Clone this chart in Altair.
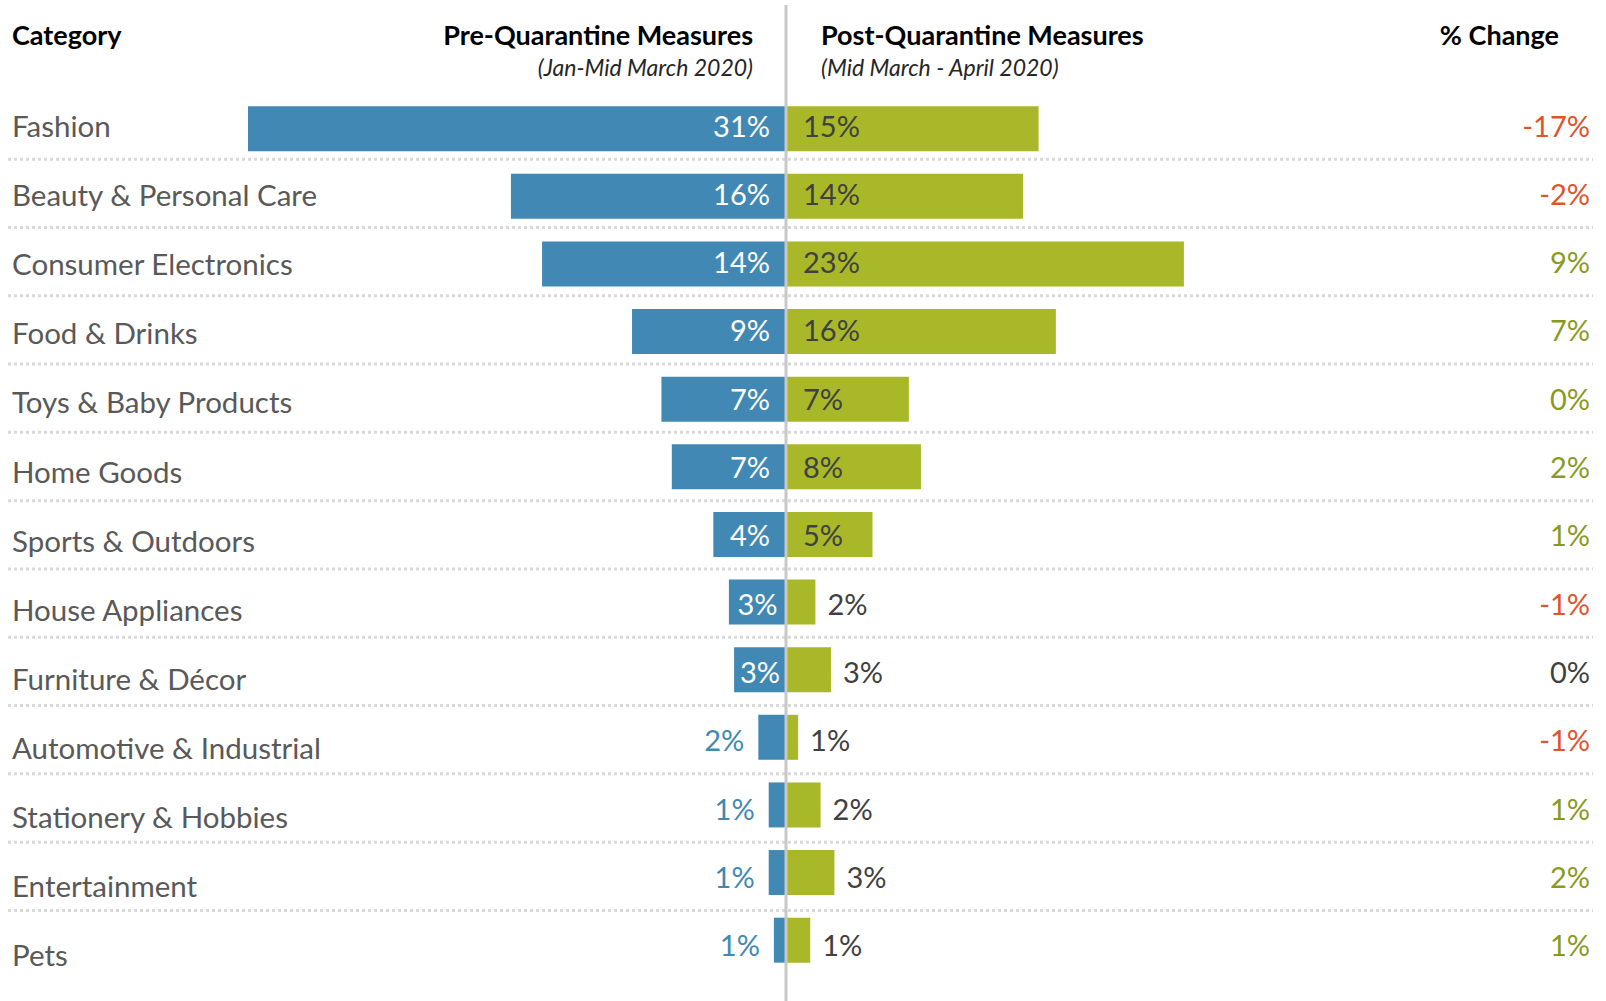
import altair as alt
import pandas as pd

categories = ["Fashion", "Beauty & Personal Care", "Consumer Electronics", "Food & Drinks",
              "Toys & Baby Products", "Home Goods", "Sports & Outdoors", "House Appliances",
              "Furniture & Décor", "Automotive & Industrial", "Stationery & Hobbies",
              "Entertainment", "Pets"]
pre_values = [31.1, 15.9, 14.1, 8.9, 7.2, 6.6, 4.2, 3.3, 3.0, 1.6, 1.0, 1.0, 0.7]
post_values = [14.6, 13.7, 23.0, 15.6, 7.1, 7.8, 5.0, 1.7, 2.6, 0.7, 2.0, 2.8, 1.4]
change_values = [-16.8, -2.2, 8.9, 6.7, 0.1, 1.6, 0.8, -1.4, 0.0, -0.9, 1.0, 1.8, 0.7]

header_texts = ["Category", "Pre-Quarantine Measures", "(Jan-Mid March 2020)",
                "Post-Quarantine Measures", "(Mid March - April 2020)", "% Change"]

BLUE = "#4189B4"
GREEN = "#A8B829"
RED_TXT = "#E0532B"
GREEN_TXT = "#8A9A1C"
DARK = "#404040"
FONT = "Lato"

W, H = 1606, 1001
CX, PXP = 786, 17.3
Y0, DY = 125, 68.3
LY0, LDY = 125.5, 69.1

df = pd.DataFrame({
    "cat": categories,
    "pre": pre_values,
    "post": post_values,
    "chg": change_values,
    "idx": list(range(len(categories))),
})

xs = alt.Scale(domain=[-CX / PXP, (W - CX) / PXP], nice=False, zero=False)
ys = alt.Scale(domain=[-Y0 / DY, (H - Y0) / DY], nice=False, zero=False, reverse=True)
lys = alt.Scale(domain=[-LY0 / LDY, (H - LY0) / LDY], nice=False, zero=False, reverse=True)

base = alt.Chart(df).transform_calculate(
    negpre="-datum.pre",
    halfpre="-datum.pre / 2",
    zero="0",
    sep="datum.idx + 0.5",
    prelab="format(datum.pre, '.0f') + '%'",
    postlab="format(datum.post, '.0f') + '%'",
    chglab="(datum.chg < 0 ? '-' : '') + format(abs(datum.chg), '.0f') + '%'",
    sign="datum.chg > 0 ? 'pos' : (datum.chg < 0 ? 'neg' : 'zero')",
)

Y = alt.Y("idx:Q", scale=ys, axis=None)

seps = base.transform_filter("datum.idx < 12").mark_rule(
    strokeDash=[3, 3], strokeWidth=3, color="#d9d9d9"
).encode(y=alt.Y("sep:Q", scale=ys, axis=None), x=alt.value(8), x2=alt.value(1593))

pre_bars = base.mark_bar(size=45, color=BLUE, orient="horizontal").encode(
    x=alt.X("negpre:Q", scale=xs, axis=None), x2="zero:Q", y=Y)
post_bars = base.mark_bar(size=45, color=GREEN, orient="horizontal").encode(
    x=alt.X("post:Q", scale=xs, axis=None), x2="zero:Q", y=Y)

txt = dict(font=FONT, fontSize=29, baseline="middle", dy=2.5)
pre_in = base.transform_filter("datum.pre >= 3.5").mark_text(
    align="right", dx=-16, color="white", **txt).encode(
    x=alt.X("zero:Q", scale=xs, axis=None), y=Y, text="prelab:N")
pre_mid = base.transform_filter("datum.pre >= 2.5 && datum.pre < 3.5").mark_text(
    align="center", color="white", **txt).encode(
    x=alt.X("halfpre:Q", scale=xs, axis=None), y=Y, text="prelab:N")
pre_out = base.transform_filter("datum.pre < 2.5").mark_text(
    align="right", dx=-14, color=BLUE, **txt).encode(
    x=alt.X("negpre:Q", scale=xs, axis=None), y=Y, text="prelab:N")
post_in = base.transform_filter("datum.post >= 4.5").mark_text(
    align="left", dx=17, color=DARK, **txt).encode(
    x=alt.X("zero:Q", scale=xs, axis=None), y=Y, text="postlab:N")
post_out = base.transform_filter("datum.post < 4.5").mark_text(
    align="left", dx=12, color=DARK, **txt).encode(
    x=alt.X("post:Q", scale=xs, axis=None), y=Y, text="postlab:N")

chg = base.mark_text(align="right", **txt).encode(
    x=alt.value(1590), y=Y, text="chglab:N",
    color=alt.Color("sign:N", scale=alt.Scale(domain=["pos", "neg", "zero"],
                                               range=[GREEN_TXT, RED_TXT, DARK]), legend=None))

cat_labels = base.mark_text(align="left", font=FONT, fontSize=29.5, baseline="middle",
                            dy=2.5, color="#595959").encode(
    x=alt.value(12), y=alt.Y("idx:Q", scale=lys, axis=None), text="cat:N")

one = alt.Chart(pd.DataFrame({"z": [0]}))
center_line = one.mark_rule(color="#c8c8c8", strokeWidth=3).encode(
    x=alt.X("z:Q", scale=xs, axis=None), y=alt.value(5), y2=alt.value(H))

hb = dict(font=FONT, fontSize=27, fontWeight="bold", color="black", baseline="middle")
hi = dict(font=FONT, fontSize=23, fontStyle="italic", color="#262626", baseline="middle")
headers = [
    one.mark_text(align="left", **hb).encode(x=alt.value(12), y=alt.value(37), text=alt.value(header_texts[0])),
    one.mark_text(align="right", **hb).encode(x=alt.value(753), y=alt.value(37), text=alt.value(header_texts[1])),
    one.mark_text(align="right", **hi).encode(x=alt.value(753), y=alt.value(69), text=alt.value(header_texts[2])),
    one.mark_text(align="left", **hb).encode(x=alt.value(821), y=alt.value(37), text=alt.value(header_texts[3])),
    one.mark_text(align="left", **hi).encode(x=alt.value(821), y=alt.value(69), text=alt.value(header_texts[4])),
    one.mark_text(align="right", **hb).encode(x=alt.value(1559), y=alt.value(37), text=alt.value(header_texts[5])),
]

chart = alt.layer(
    seps, pre_bars, post_bars, center_line, pre_in, pre_mid, pre_out, post_in, post_out, chg,
    cat_labels, *headers
).resolve_scale(y="independent").properties(
    width=W, height=H, padding=0, autosize=alt.AutoSizeParams(type="none"),
    background="white"
).configure_view(stroke=None)

chart.save("out.html", embed_options={"renderer": "svg", "actions": False})
